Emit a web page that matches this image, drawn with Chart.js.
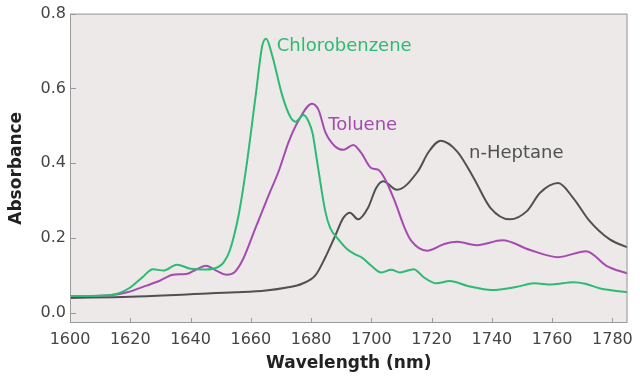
<!DOCTYPE html>
<html>
<head>
<meta charset="utf-8">
<script src="https://cdn.jsdelivr.net/npm/chart.js@4.4.1/dist/chart.umd.min.js"></script>
<style>
  html, body { margin: 0; padding: 0; background: #fff; }
  canvas { display: block; }
</style>
</head>
<body>
<canvas id="spectra" width="640" height="382"></canvas>
<script>
// wavelength (nm) / absorbance
const chloroX = [1600, 1610, 1616, 1620, 1624, 1627.5, 1631, 1635.5, 1640, 1645, 1649, 1651, 1653, 1656, 1658.3, 1661.6, 1663.8, 1665.1, 1667.1, 1670.4, 1673.1, 1674.8, 1677.5, 1679.2, 1680.5, 1682, 1684.7, 1686.3, 1689, 1692, 1694.5, 1697, 1700, 1703.3, 1706.6, 1709.5, 1714, 1717.6, 1721.5, 1726, 1732, 1740, 1748, 1754, 1760, 1767, 1771, 1776, 1785];
const chloroY = [0.045, 0.046, 0.052, 0.068, 0.095, 0.117, 0.113, 0.129, 0.118, 0.116, 0.122, 0.135, 0.166, 0.263, 0.378, 0.58, 0.714, 0.733, 0.688, 0.582, 0.524, 0.511, 0.529, 0.511, 0.48, 0.405, 0.272, 0.228, 0.197, 0.17, 0.157, 0.147, 0.126, 0.108, 0.115, 0.108, 0.117, 0.094, 0.079, 0.085, 0.072, 0.061, 0.069, 0.079, 0.076, 0.082, 0.078, 0.065, 0.055];

const tolueneX = [1600, 1610, 1616, 1619, 1625.4, 1629.8, 1634.2, 1638.6, 1641.9, 1645.2, 1648.5, 1652, 1654.5, 1657.2, 1661.6, 1666, 1669.3, 1672.6, 1675.9, 1680.3, 1682.5, 1684.7, 1688, 1690.7, 1694, 1696.7, 1700, 1702.2, 1704.4, 1707.7, 1711, 1713.2, 1718.5, 1724.2, 1728.5, 1735, 1743.5, 1752.7, 1762, 1771.3, 1778, 1785];
const tolueneY = [0.045, 0.046, 0.05, 0.055, 0.073, 0.086, 0.102, 0.104, 0.116, 0.126, 0.113, 0.102, 0.108, 0.14, 0.228, 0.316, 0.38, 0.458, 0.515, 0.559, 0.542, 0.484, 0.445, 0.436, 0.449, 0.427, 0.387, 0.383, 0.36, 0.3, 0.228, 0.193, 0.166, 0.184, 0.19, 0.181, 0.194, 0.168, 0.149, 0.165, 0.126, 0.105];

const heptaneX = [1600, 1620, 1640, 1655, 1665, 1672, 1677, 1681.4, 1684.7, 1688, 1690.7, 1692.9, 1695.6, 1698.9, 1701.6, 1703.9, 1708.5, 1715.4, 1719, 1723, 1728.5, 1734, 1739.5, 1746, 1751.6, 1756, 1762, 1767, 1772.4, 1779, 1785];
const heptaneY = [0.04, 0.043, 0.05, 0.055, 0.06, 0.068, 0.078, 0.1, 0.148, 0.206, 0.254, 0.268, 0.25, 0.281, 0.334, 0.352, 0.329, 0.378, 0.43, 0.46, 0.431, 0.36, 0.281, 0.25, 0.272, 0.321, 0.347, 0.307, 0.246, 0.197, 0.175];

const xTicks = [1600, 1620, 1640, 1660, 1680, 1700, 1720, 1740, 1760, 1780];
const yTicks = [0, 0.2, 0.4, 0.6, 0.8];

const seriesNames = ["Chlorobenzene", "Toluene", "n-Heptane"];
const seriesColors = ["#2dba72", "#a54bb0", "#505050"];
// where each curve's name sits, in data units (left edge, baseline)
const nameAt = [[1668.6, 0.699], [1685.7, 0.489], [1732.4, 0.415]];

const toPoints = (xs, ys) => xs.map((x, i) => ({ x: x, y: ys[i] }));
const allSeries = [toPoints(chloroX, chloroY), toPoints(tolueneX, tolueneY), toPoints(heptaneX, heptaneY)];

const FONT = "'DejaVu Sans', sans-serif";

const plotFrame = {
  id: "plotFrame",
  beforeDatasetsDraw(chart) {
    const a = chart.chartArea;
    const c = chart.ctx;
    c.save();
    c.fillStyle = "#ece9e8";
    c.fillRect(a.left, a.top, a.right - a.left, a.bottom - a.top);
    c.restore();
  },
  afterDatasetsDraw(chart) {
    const a = chart.chartArea;
    const c = chart.ctx;
    const xs = chart.scales.x;
    const ys = chart.scales.y;
    c.save();
    c.strokeStyle = "#9a9a9a";
    c.lineWidth = 1;
    c.strokeRect(a.left + 0.5, a.top + 0.5, a.right - a.left - 1, a.bottom - a.top - 1);
    c.beginPath();
    xTicks.forEach(v => {
      const px = Math.round(xs.getPixelForValue(v)) + 0.5;
      c.moveTo(px, a.bottom);
      c.lineTo(px, a.bottom - 5);
    });
    yTicks.forEach(v => {
      const py = Math.round(ys.getPixelForValue(v)) + 0.5;
      c.moveTo(a.left, py);
      c.lineTo(a.left + 6, py);
    });
    c.stroke();

    c.font = "18px " + FONT;
    c.textBaseline = "alphabetic";
    c.textAlign = "left";
    seriesNames.forEach((name, i) => {
      c.fillStyle = seriesColors[i];
      c.fillText(name, xs.getPixelForValue(nameAt[i][0]), ys.getPixelForValue(nameAt[i][1]));
    });
    c.restore();
  }
};

new Chart(document.getElementById("spectra"), {
  type: "line",
  data: {
    datasets: allSeries.map((pts, i) => ({
      label: seriesNames[i],
      data: pts,
      borderColor: seriesColors[i],
      borderWidth: 2,
      pointRadius: 0,
      fill: false,
      cubicInterpolationMode: "monotone"
    }))
  },
  options: {
    responsive: false,
    animation: false,
    layout: { padding: { top: 10, right: 8, left: 0, bottom: 0 } },
    plugins: { legend: { display: false }, tooltip: { enabled: false } },
    scales: {
      x: {
        type: "linear",
        min: 1600,
        max: 1785,
        afterBuildTicks: s => { s.ticks = xTicks.map(v => ({ value: v })); },
        afterFit: s => { s.height = 59; },
        grid: { display: false, drawTicks: false },
        border: { display: false },
        ticks: {
          color: "#454545",
          font: { family: FONT, size: 16 },
          padding: 7,
          maxRotation: 0,
          callback: v => String(v)
        },
        title: {
          display: true,
          text: "Wavelength (nm)",
          color: "#222",
          font: { family: FONT, size: 17, weight: "bold" },
          padding: { top: 0, bottom: 8 }
        }
      },
      y: {
        min: -0.027,
        max: 0.8,
        afterBuildTicks: s => { s.ticks = yTicks.map(v => ({ value: v })); },
        afterFit: s => { s.width = 70; },
        grid: { display: false, drawTicks: false },
        border: { display: false },
        ticks: {
          color: "#454545",
          font: { family: FONT, size: 16 },
          padding: 4,
          callback: v => v.toFixed(1)
        },
        title: {
          display: true,
          text: "Absorbance",
          color: "#222",
          font: { family: FONT, size: 17, weight: "bold" },
          padding: { top: 6, bottom: 0 }
        }
      }
    }
  },
  plugins: [plotFrame]
});
</script>
</body>
</html>
